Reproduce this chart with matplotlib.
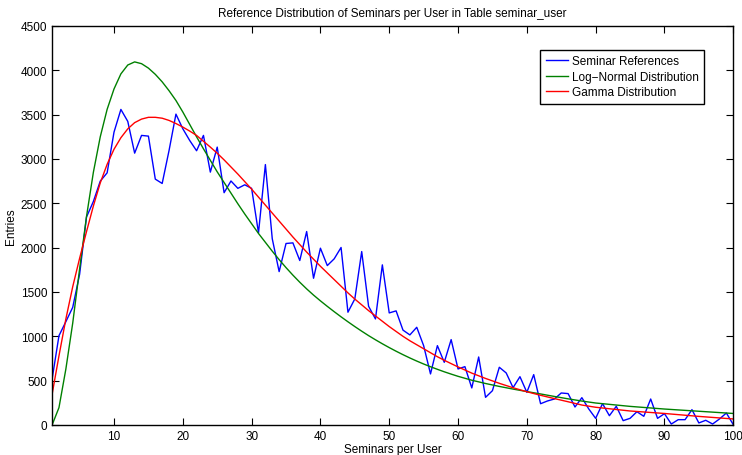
import numpy as np
import matplotlib
matplotlib.use("Agg")
import matplotlib.pyplot as plt

plt.rcParams['font.family'] = ['Liberation Sans', 'DejaVu Sans']

# seminars per user -> number of entries
seminars = list(range(1, 101))
references = [
    517, 1007, 1165, 1327, 1700, 2345, 2521, 2750, 2844, 3303,
    3559, 3424, 3066, 3266, 3258, 2773, 2724, 3096, 3506, 3341,
    3209, 3093, 3266, 2852, 3134, 2620, 2752, 2669, 2709, 2669,
    2167, 2937, 2100, 1730, 2047, 2054, 1855, 2182, 1655, 1994,
    1798, 1874, 2002, 1272, 1422, 1956, 1339, 1196, 1806, 1264,
    1287, 1070, 1016, 1102, 895, 576, 895, 707, 963, 632,
    658, 418, 767, 312, 387, 651, 587, 421, 545, 369,
    568, 240, 271, 293, 361, 354, 203, 308, 181, 75,
    241, 105, 211, 49, 75, 150, 98, 293, 75, 128,
    11, 60, 60, 173, 23, 53, 11, 68, 135, 5,
]

# fitted curves
fit_x = list(range(1, 61)) + [62, 64, 66, 68, 70, 72, 74, 76, 78, 80, 85, 90, 95, 100]
lognormal = [
    0, 196, 630, 1150, 1760, 2350, 2850, 3250, 3560, 3790,
    3960, 4060, 4095, 4075, 4025, 3955, 3870, 3770, 3660, 3530,
    3390, 3250, 3115, 2985, 2855, 2735, 2615, 2495, 2380, 2270,
    2160, 2060, 1960, 1865, 1775, 1690, 1610, 1535, 1465, 1400,
    1338, 1278, 1220, 1164, 1110, 1058, 1008, 961, 916, 873,
    832, 793, 756, 721, 688, 657, 628, 600, 574, 549,
    505, 468, 435, 405, 377, 350, 322, 295, 270, 248, 210, 180, 155, 130,
]
gamma = [
    345, 780, 1195, 1560, 1880, 2180, 2470, 2730, 2940, 3110,
    3240, 3340, 3410, 3450, 3470, 3470, 3460, 3435, 3400, 3360,
    3315, 3266, 3200, 3134, 3065, 2990, 2910, 2830, 2745, 2660,
    2570, 2480, 2390, 2300, 2210, 2120, 2035, 1950, 1870, 1790,
    1715, 1640, 1565, 1490, 1420, 1355, 1290, 1230, 1170, 1110,
    1055, 1000, 950, 905, 860, 815, 770, 730, 692, 655,
    585, 525, 470, 420, 375, 335, 298, 262, 225, 200, 158, 130, 97, 68,
]

fig = plt.figure(figsize=(7.42, 4.56), dpi=100)
ax = fig.add_axes([0.0702, 0.0658, 0.918, 0.8750])

ax.plot(seminars, references, color=(0, 0, 1), lw=1.0, label='Seminar References')
ax.plot(fit_x, lognormal, color=(0, 0.5, 0), lw=1.0, label='Log\u2212Normal Distribution')
ax.plot(fit_x, gamma, color=(1, 0, 0), lw=1.0, label='Gamma Distribution')

ax.set_xlim(1, 100)
ax.set_ylim(0, 4500)
ax.set_xticks(range(10, 101, 10))
ax.set_yticks(range(0, 4501, 500))
ax.tick_params(direction='in', top=True, right=True, length=5, labelsize=8.5)
for s in ax.spines.values():
    s.set_linewidth(1.0)

ax.set_title('Reference Distribution of Seminars per User in Table seminar_user', fontsize=8.5, pad=7)
ax.set_xlabel('Seminars per User', fontsize=8.5, labelpad=1)
ax.set_ylabel('Entries', fontsize=8.5, labelpad=3)

leg = ax.legend(loc='upper right', bbox_to_anchor=(0.957, 0.94), borderaxespad=0,
                fontsize=8.5, fancybox=False, framealpha=1, edgecolor='black',
                handlelength=1.9, handletextpad=0.3, borderpad=0.45, labelspacing=0.3)
leg.get_frame().set_linewidth(1.0)

fig.savefig('out.png', dpi=100)
